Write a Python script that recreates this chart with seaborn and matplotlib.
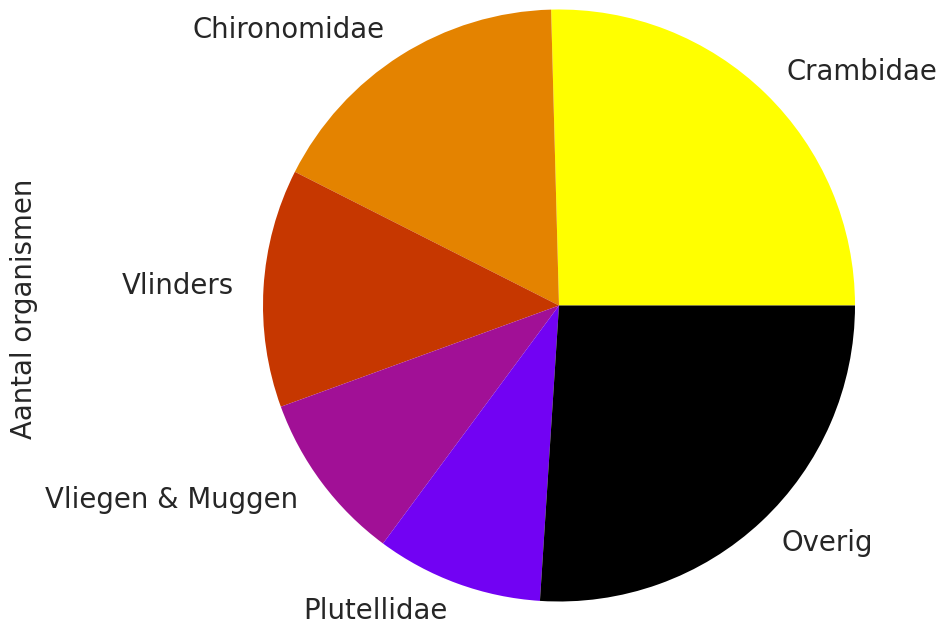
import numpy as np
import pandas as pd
import matplotlib
matplotlib.use("Agg")
import matplotlib.pyplot as plt
import seaborn as sns

# data (counts per group)
groepen = ["Crambidae", "Chironomidae", "Vlinders", "Vliegen & Muggen", "Plutellidae", "Overig"]
aantallen = [254, 171, 130, 93, 91, 260]

s = pd.Series(aantallen, index=groepen, name="Aantal organismen")

sns.set_theme(style="white")
plt.rcParams['font.family'] = ['DejaVu Sans']

# gnuplot colours, yellow -> black
kleuren = plt.get_cmap("gnuplot_r")(np.linspace(0, 1, len(groepen)))

W, H = 943, 629
fig = plt.figure(figsize=(W / 100, H / 100), dpi=100)
# pie centre ~(559, 305.5) px, radius ~296 px; pie limits are +-1.25 radius
half = 1.25 * 296
cx, cy = 559, H - 305.5
ax = fig.add_axes([(cx - half) / W, (cy - half) / H, 2 * half / W, 2 * half / H])

ax.pie(s.values, labels=s.index, colors=kleuren, startangle=0,
       wedgeprops={"linewidth": 0},
       textprops={"fontsize": 19.8, "color": "#262626"})
ax.set_aspect("equal")
ax.set_ylabel(s.name, fontsize=19.8, color="#262626")
ax.yaxis.set_label_coords((38 - (cx - half)) / (2 * half),
                          (H - 308.5 - (cy - half)) / (2 * half))

fig.savefig("out.png", dpi=100)
